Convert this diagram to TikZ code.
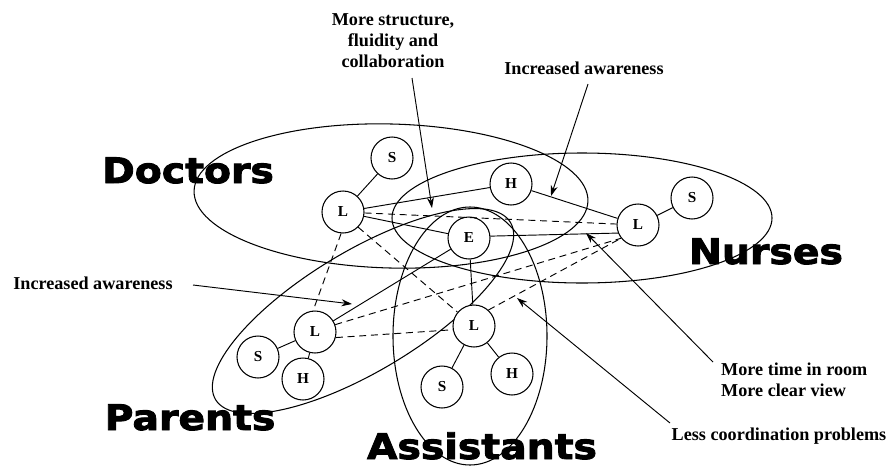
\documentclass[tikz,border=0pt]{standalone}
\usepackage{fontspec}
\setmainfont{Liberation Serif}
\newfontfamily\groupfont[FakeStretch=1.12,FakeBold=2.5]{DejaVu Sans Bold}
\usetikzlibrary{arrows.meta, calc}

\begin{document}
\begin{tikzpicture}[x=0.03cm, y=-0.03cm,
    member/.style={circle, draw, fill=white, line width=0.9pt, minimum size=1.26cm, inner sep=0pt, font=\fontsize{13}{13}\selectfont\bfseries},
    team/.style={line width=0.9pt},
    tie/.style={line width=0.8pt},
    loose/.style={line width=0.8pt, dash pattern=on 6pt off 4pt},
    note/.style={font=\fontsize{15.5}{18}\selectfont\bfseries, inner sep=0pt},
    grouplabel/.style={font=\groupfont\fontsize{30}{30}\selectfont, inner sep=0pt, anchor=base},
    pointer/.style={line width=0.8pt, -{Stealth[length=9pt, width=6pt]}}]
        \useasboundingbox (0,0) rectangle (893,467);

        % Group names
        \node[grouplabel] (docLbl) at (188,183) {Doctors};
        \node[grouplabel] (nurLbl) at (766,264) {Nurses};
        \node[grouplabel] (parLbl) at (190,430) {Parents};
        \node[grouplabel] (assLbl) at (482,459) {Assistants};

        % Group outlines
        \draw[team, rotate around={-1.5:(391,196)}] (391,196) ellipse [x radius=197, y radius=72];
        \draw[team] (582,218) ellipse [x radius=190, y radius=65];
        \draw[team, rotate around={31:(363,311)}] (363,311) ellipse [x radius=172, y radius=60];
        \draw[team] (470,336) ellipse [x radius=77, y radius=129];

        % Members: L = lead, S, H, E
        \node[member] (dL) at (343,212) {L};
        \node[member] (dS) at (392,158) {S};
        \node[member] (H) at (511,184) {H};
        \node[member] (E) at (469,238) {E};
        \node[member] (nL) at (638,225) {L};
        \node[member] (nS) at (692,198) {S};
        \node[member] (pL) at (315,332) {L};
        \node[member] (pS) at (258,357) {S};
        \node[member] (pH) at (303,379) {H};
        \node[member] (aL) at (474,326) {L};
        \node[member] (aS) at (442,387) {S};
        \node[member] (aH) at (512,374) {H};

        % Solid ties
        \foreach \a/\b in {dL/dS, dL/H, H/nL, dL/E, E/pL, E/aL, nL/nS, pL/pS, pL/pH, aL/aS, aL/aH} {
            \draw[tie] (\a) -- (\b);
        }
        \draw[tie] (E.5) -- (nL.202);

        % Dashed ties
        \draw[loose] (dL) -- (nL);
        \draw[loose] (dL.265) -- (pL.95);
        \draw[loose] (dL.-45) -- (aL.140);
        \draw[loose] (pL.20) -- (nL.218);
        \draw[loose] (pL.-15) -- (aL.190);
        \draw[loose] (aL.48) -- (nL.218);

        % Comments and their pointers
        \node[note, align=center] (structNote) at (393,41) {More structure,\\fluidity and\\collaboration};
        \node[note] (awareTop) at (584,68) {Increased awareness};
        \node[note] (awareLeft) at (93,283) {Increased awareness};
        \node[note, anchor=west, align=left] (timeNote) at (721,380) {More time in room\\More clear view};
        \node[note] (coordNote) at (779,436) {Less coordination problems};

        \coordinate (structTail) at (412,78);
        \coordinate (structTip) at (432,208);
        \coordinate (awareTopTail) at (588,84);
        \coordinate (awareTopTip) at (551,196);
        \coordinate (awareLeftTail) at (193,285);
        \coordinate (awareLeftTip) at (352,304);
        \coordinate (timeTail) at (713,362);
        \coordinate (timeTip) at (586,233);
        \coordinate (coordTail) at (670,423);
        \coordinate (coordTip) at (517,298);

        \draw[pointer] (structTail) -- (structTip);
        \draw[pointer] (awareTopTail) -- (awareTopTip);
        \draw[pointer] (awareLeftTail) -- (awareLeftTip);
        \draw[pointer] (timeTail) -- (timeTip);
        \draw[pointer] (coordTail) -- (coordTip);
    \end{tikzpicture}
\end{document}
